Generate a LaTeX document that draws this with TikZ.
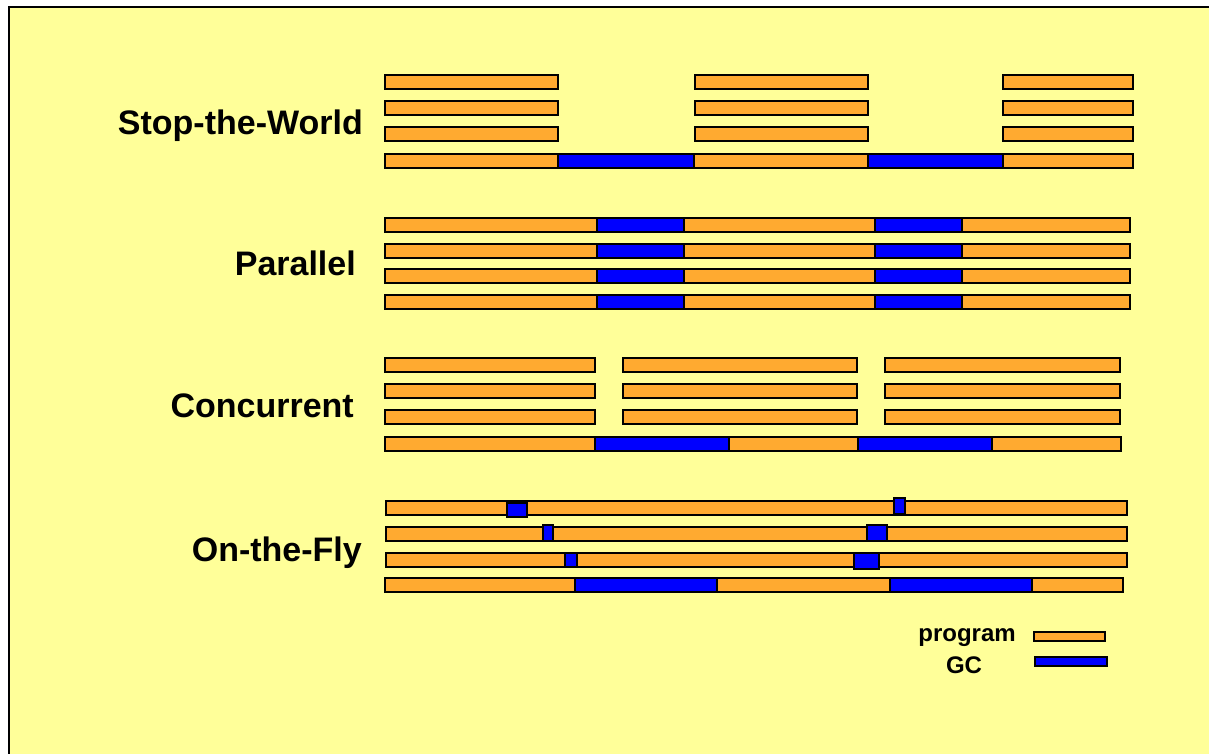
\documentclass[tikz,border=0pt]{standalone}
\usepackage{fontspec}
\setmainfont{Liberation Sans}
\definecolor{bgyellow}{HTML}{FFFF99}
\definecolor{progorange}{HTML}{FFAA30}
\definecolor{gcblue}{HTML}{0000FF}
\begin{document}
\begin{tikzpicture}[x=1pt,y=-1pt,
  prog/.style={fill=progorange,draw=black,line width=2pt},
  gcbar/.style={fill=gcblue,draw=black,line width=2pt},
  title/.style={font=\fontsize{34}{40}\selectfont\bfseries,anchor=base east,inner sep=0pt},
  legend/.style={font=\fontsize{24}{28}\selectfont\bfseries,anchor=base,inner sep=0pt}]
\useasboundingbox (0,0) rectangle (1209,754);
\fill[white] (0,0) rectangle (1209,754);
\fill[bgyellow] (9,7) rectangle (1209,754);
\draw[line width=2pt] (9,754) -- (9,7) -- (1209,7);

% Stop-the-World
\node[title] (stw) at (363,135) {Stop-the-World};
\foreach \ya/\yb in {75/89,101/115,127/141}{
  \draw[prog] (385,\ya) rectangle (558,\yb);
  \draw[prog] (695,\ya) rectangle (868,\yb);
  \draw[prog] (1003,\ya) rectangle (1133,\yb);
}
\draw[prog] (385,154) rectangle (558,168);
\draw[gcbar] (558,154) rectangle (694,168);
\draw[prog] (694,154) rectangle (868,168);
\draw[gcbar] (868,154) rectangle (1003,168);
\draw[prog] (1003,154) rectangle (1133,168);

% Parallel
\node[title] (par) at (356,275) {Parallel};
\foreach \ya/\yb in {218/232,244/258,269/283,295/309}{
  \draw[prog] (385,\ya) rectangle (597,\yb);
  \draw[gcbar] (597,\ya) rectangle (684,\yb);
  \draw[prog] (684,\ya) rectangle (875,\yb);
  \draw[gcbar] (875,\ya) rectangle (962,\yb);
  \draw[prog] (962,\ya) rectangle (1130,\yb);
}

% Concurrent
\node[title] (conc) at (354,417) {Concurrent};
\foreach \ya/\yb in {358/372,384/398,410/424}{
  \draw[prog] (385,\ya) rectangle (595,\yb);
  \draw[prog] (623,\ya) rectangle (857,\yb);
  \draw[prog] (885,\ya) rectangle (1120,\yb);
}
\draw[prog] (385,437) rectangle (595,451);
\draw[gcbar] (595,437) rectangle (729,451);
\draw[prog] (729,437) rectangle (858,451);
\draw[gcbar] (858,437) rectangle (992,451);
\draw[prog] (992,437) rectangle (1121,451);

% On-the-Fly
\node[title] (otf) at (362,561) {On-the-Fly};
\draw[prog] (386,501) rectangle (1127,515);
\draw[prog] (386,527) rectangle (1127,541);
\draw[prog] (386,553) rectangle (1127,567);
\draw[gcbar] (507,503) rectangle (527,517);
\draw[gcbar] (894,498) rectangle (905,514);
\draw[gcbar] (543,525) rectangle (553,541);
\draw[gcbar] (867,525) rectangle (887,541);
\draw[gcbar] (565,553) rectangle (577,567);
\draw[gcbar] (854,553) rectangle (879,569);
\draw[prog] (385,578) rectangle (575,592);
\draw[gcbar] (575,578) rectangle (717,592);
\draw[prog] (717,578) rectangle (890,592);
\draw[gcbar] (890,578) rectangle (1032,592);
\draw[prog] (1032,578) rectangle (1123,592);

% Legend
\node[legend] (lprog) at (967,641) {program};
\node[legend] (lgc) at (964,673) {GC};
\draw[prog] (1034,632) rectangle (1105,641);
\draw[gcbar] (1035,657) rectangle (1107,666);
\end{tikzpicture}
\end{document}
